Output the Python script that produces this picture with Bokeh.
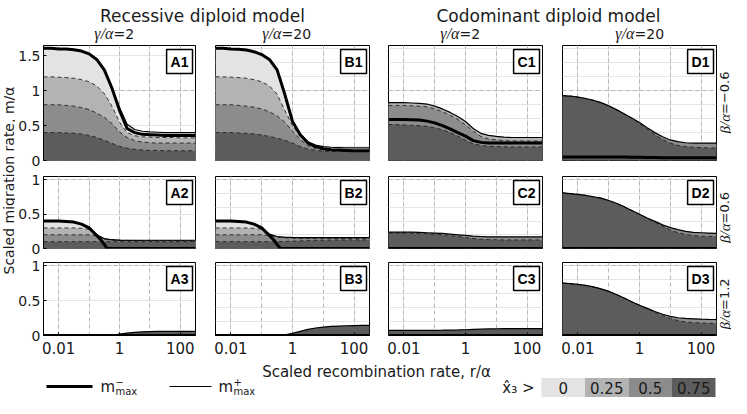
import math
from bokeh.plotting import figure
from bokeh.layouts import row, column
from bokeh.models import Range1d, FixedTicker, Label, Grid, LogScale
from bokeh.core.properties import value
from bokeh.embed import file_html
from bokeh.resources import INLINE

# ---------------- data ----------------
LOG_R = [-2.5, -2.25, -2.0, -1.75, -1.5, -1.25, -1.0, -0.75, -0.5, -0.25, 0.0,
         0.25, 0.5, 0.75, 1.0, 1.25, 1.5, 1.75, 2.0, 2.25, 2.5]
R = [10 ** v for v in LOG_R]

X_TICKS = [0.01, 1, 100]
X_TICK_LABELS = ["0.01", "1", "100"]
X_GRID = [0.01, 0.1, 1, 10, 100]
Y_TICKS = [[0, 0.5, 1, 1.5], [0, 0.5, 1], [0, 0.5, 1]]
Y_TICK_LABELS = [["0", "0.5", "1", "1.5"], ["0", "0.5", "1"], ["0", "0.5", "1"]]
Y_MAX = [1.65, 1.05, 1.05]

COLUMN_TITLES = ["Recessive diploid model", "Codominant diploid model"]
GAMMA = ["2", "20", "2", "20"]
BETA = ["\u22120.6", "0.6", "1.2"]
LEVELS = ["0", "0.25", "0.5", "0.75"]
LEVEL_COLORS = ["#e3e3e3", "#b3b3b3", "#8c8c8c", "#5c5c5c"]

ZERO = [0.0] * 21

A1_THICK = [1.61, 1.61, 1.60, 1.60, 1.59, 1.57, 1.53, 1.45, 1.30, 1.04, 0.72, 0.46, 0.40, 0.375, 0.37, 0.365, 0.36, 0.36, 0.36, 0.36, 0.36]
A1_THIN = [1.61, 1.61, 1.60, 1.60, 1.59, 1.57, 1.53, 1.45, 1.30, 1.04, 0.76, 0.52, 0.445, 0.42, 0.41, 0.405, 0.40, 0.40, 0.40, 0.40, 0.40]
A1_D1 = [1.20, 1.20, 1.195, 1.19, 1.18, 1.16, 1.13, 1.07, 0.96, 0.78, 0.55, 0.40, 0.355, 0.34, 0.335, 0.33, 0.33, 0.33, 0.325, 0.325, 0.325]
A1_D2 = [0.80, 0.80, 0.80, 0.79, 0.78, 0.76, 0.73, 0.68, 0.62, 0.53, 0.41, 0.33, 0.285, 0.265, 0.255, 0.25, 0.25, 0.25, 0.25, 0.25, 0.25]
A1_D3 = [0.40, 0.40, 0.40, 0.395, 0.39, 0.38, 0.36, 0.33, 0.29, 0.245, 0.205, 0.175, 0.16, 0.15, 0.145, 0.145, 0.14, 0.14, 0.14, 0.14, 0.14]

B1_THICK = [1.61, 1.61, 1.60, 1.595, 1.585, 1.56, 1.52, 1.45, 1.30, 0.95, 0.56, 0.37, 0.25, 0.20, 0.17, 0.155, 0.15, 0.145, 0.14, 0.14, 0.14]
B1_THIN = [1.61, 1.61, 1.60, 1.595, 1.585, 1.56, 1.52, 1.45, 1.30, 0.95, 0.56, 0.38, 0.27, 0.22, 0.20, 0.19, 0.185, 0.18, 0.18, 0.18, 0.18]
B1_D1 = [1.20, 1.20, 1.195, 1.19, 1.18, 1.16, 1.13, 1.07, 0.95, 0.72, 0.50, 0.35, 0.245, 0.19, 0.165, 0.15, 0.145, 0.14, 0.14, 0.14, 0.14]
B1_D2 = [0.80, 0.80, 0.80, 0.79, 0.78, 0.765, 0.74, 0.70, 0.64, 0.55, 0.42, 0.30, 0.21, 0.17, 0.15, 0.14, 0.135, 0.135, 0.135, 0.135, 0.135]
B1_D3 = [0.40, 0.40, 0.40, 0.395, 0.39, 0.38, 0.365, 0.345, 0.32, 0.29, 0.25, 0.20, 0.165, 0.145, 0.135, 0.13, 0.13, 0.13, 0.13, 0.13, 0.13]

C1_THIN = [0.83, 0.83, 0.83, 0.825, 0.82, 0.81, 0.78, 0.74, 0.69, 0.63, 0.56, 0.46, 0.39, 0.36, 0.345, 0.335, 0.33, 0.33, 0.33, 0.33, 0.33]
C1_DASH_HI = [0.79, 0.79, 0.79, 0.785, 0.78, 0.77, 0.74, 0.70, 0.65, 0.59, 0.51, 0.42, 0.345, 0.31, 0.295, 0.285, 0.28, 0.28, 0.28, 0.28, 0.28]
C1_THICK = [0.59, 0.59, 0.59, 0.585, 0.58, 0.565, 0.54, 0.50, 0.455, 0.40, 0.35, 0.285, 0.26, 0.25, 0.25, 0.25, 0.25, 0.25, 0.25, 0.25, 0.25]
C1_DASH_LO = [0.515, 0.515, 0.51, 0.505, 0.50, 0.49, 0.47, 0.44, 0.40, 0.35, 0.29, 0.24, 0.215, 0.205, 0.20, 0.197, 0.195, 0.195, 0.195, 0.195, 0.195]

D1_THIN = [0.93, 0.925, 0.91, 0.89, 0.865, 0.83, 0.785, 0.73, 0.67, 0.61, 0.545, 0.47, 0.40, 0.34, 0.295, 0.27, 0.255, 0.25, 0.25, 0.25, 0.25]
D1_DASH = [0.93, 0.925, 0.91, 0.89, 0.865, 0.83, 0.785, 0.73, 0.67, 0.60, 0.53, 0.45, 0.37, 0.30, 0.25, 0.215, 0.20, 0.19, 0.185, 0.18, 0.18]
D1_THICK = [0.05, 0.05, 0.05, 0.05, 0.05, 0.05, 0.05, 0.05, 0.05, 0.048, 0.046, 0.044, 0.042, 0.04, 0.04, 0.04, 0.04, 0.04, 0.04, 0.04, 0.04]

A2_THICK_LOG_R = [-2.5, -2.0, -1.75, -1.5, -1.25, -1.0, -0.75, -0.6, -0.5, -0.41, 2.5]
A2_THICK = [0.40, 0.40, 0.395, 0.385, 0.355, 0.30, 0.19, 0.12, 0.06, 0.0, 0.0]
A2_THIN = [0.40, 0.40, 0.40, 0.395, 0.385, 0.355, 0.30, 0.20, 0.145, 0.128, 0.122, 0.12, 0.12, 0.12, 0.12, 0.12, 0.12, 0.12, 0.12, 0.12, 0.12]
A2_D1 = [0.30, 0.30, 0.30, 0.30, 0.30, 0.295, 0.28, 0.19, 0.14, 0.124, 0.12, 0.118, 0.117, 0.116, 0.116, 0.115, 0.115, 0.115, 0.115, 0.115, 0.115]
A2_D2 = [0.20, 0.20, 0.20, 0.20, 0.20, 0.20, 0.20, 0.185, 0.138, 0.122, 0.117, 0.115, 0.113, 0.112, 0.111, 0.11, 0.11, 0.11, 0.11, 0.11, 0.11]
A2_D3 = [0.10, 0.10, 0.10, 0.10, 0.10, 0.10, 0.10, 0.10, 0.10, 0.10, 0.10, 0.10, 0.10, 0.10, 0.10, 0.10, 0.10, 0.10, 0.10, 0.10, 0.10]

B2_THICK_LOG_R = [-2.5, -2.0, -1.75, -1.5, -1.25, -1.0, -0.75, -0.6, -0.5, -0.40, 2.5]
B2_THICK = [0.40, 0.40, 0.395, 0.385, 0.355, 0.30, 0.19, 0.12, 0.06, 0.0, 0.0]
B2_THIN = [0.40, 0.40, 0.40, 0.395, 0.385, 0.355, 0.30, 0.21, 0.175, 0.165, 0.162, 0.16, 0.16, 0.16, 0.16, 0.16, 0.16, 0.16, 0.16, 0.16, 0.16]
B2_D1 = [0.30, 0.30, 0.30, 0.30, 0.30, 0.295, 0.28, 0.20, 0.17, 0.16, 0.157, 0.155, 0.155, 0.155, 0.155, 0.155, 0.155, 0.155, 0.155, 0.155, 0.155]
B2_D2 = [0.20, 0.20, 0.20, 0.20, 0.20, 0.20, 0.20, 0.19, 0.165, 0.155, 0.15, 0.148, 0.146, 0.145, 0.145, 0.145, 0.145, 0.145, 0.145, 0.145, 0.145]
B2_D3 = [0.10, 0.10, 0.10, 0.10, 0.10, 0.10, 0.10, 0.10, 0.10, 0.103, 0.107, 0.111, 0.115, 0.118, 0.12, 0.122, 0.124, 0.125, 0.125, 0.125, 0.125]

C2_THIN = [0.24, 0.24, 0.24, 0.24, 0.235, 0.23, 0.225, 0.22, 0.21, 0.20, 0.19, 0.18, 0.175, 0.17, 0.17, 0.17, 0.17, 0.17, 0.17, 0.17, 0.17]
C2_DASH = [0.225, 0.225, 0.225, 0.22, 0.22, 0.215, 0.21, 0.20, 0.19, 0.175, 0.16, 0.145, 0.135, 0.13, 0.127, 0.125, 0.125, 0.125, 0.125, 0.125, 0.125]

D2_THIN = [0.81, 0.80, 0.79, 0.775, 0.755, 0.735, 0.70, 0.66, 0.61, 0.555, 0.50, 0.445, 0.395, 0.345, 0.305, 0.275, 0.25, 0.235, 0.23, 0.225, 0.22]
D2_DASH = [0.81, 0.80, 0.79, 0.775, 0.755, 0.735, 0.70, 0.66, 0.61, 0.555, 0.50, 0.44, 0.385, 0.325, 0.27, 0.23, 0.205, 0.19, 0.18, 0.175, 0.17]

A3_THIN = [0, 0, 0, 0, 0, 0, 0, 0, 0, 0.003, 0.02, 0.035, 0.045, 0.052, 0.056, 0.058, 0.06, 0.06, 0.06, 0.06, 0.06]
B3_THIN = [0, 0, 0, 0, 0, 0, 0, 0, 0, 0.008, 0.03, 0.06, 0.088, 0.108, 0.12, 0.13, 0.136, 0.14, 0.143, 0.145, 0.147]
C3_THIN = [0.075, 0.075, 0.075, 0.075, 0.075, 0.075, 0.075, 0.076, 0.078, 0.08, 0.083, 0.087, 0.091, 0.094, 0.097, 0.099, 0.10, 0.10, 0.10, 0.10, 0.10]
D3_THIN = [0.755, 0.745, 0.735, 0.72, 0.70, 0.67, 0.635, 0.59, 0.54, 0.485, 0.435, 0.39, 0.345, 0.305, 0.275, 0.255, 0.245, 0.24, 0.235, 0.232, 0.23]
D3_DASH = [0.755, 0.745, 0.735, 0.72, 0.70, 0.67, 0.635, 0.59, 0.54, 0.485, 0.435, 0.385, 0.335, 0.285, 0.245, 0.215, 0.195, 0.185, 0.18, 0.175, 0.17]

PANELS = {
    "A1": dict(fills=[(0, A1_THIN), (1, A1_D1), (2, A1_D2), (3, A1_D3)], dashed=[A1_D1, A1_D2, A1_D3],
               thin=A1_THIN, thick=(LOG_R, A1_THICK)),
    "B1": dict(fills=[(0, B1_THIN), (1, B1_D1), (2, B1_D2), (3, B1_D3)], dashed=[B1_D1, B1_D2, B1_D3],
               thin=B1_THIN, thick=(LOG_R, B1_THICK)),
    "C1": dict(fills=[(1, C1_THIN), (2, C1_DASH_HI), (3, C1_DASH_LO)], dashed=[C1_DASH_HI, C1_DASH_LO],
               thin=C1_THIN, thick=(LOG_R, C1_THICK)),
    "D1": dict(fills=[(2, D1_THIN), (3, D1_DASH)], dashed=[D1_DASH], thin=D1_THIN, thick=(LOG_R, D1_THICK)),
    "A2": dict(fills=[(0, A2_THIN), (1, A2_D1), (2, A2_D2), (3, A2_D3)], dashed=[A2_D1, A2_D2, A2_D3],
               thin=A2_THIN, thick=(A2_THICK_LOG_R, A2_THICK)),
    "B2": dict(fills=[(0, B2_THIN), (1, B2_D1), (2, B2_D2), (3, B2_D3)], dashed=[B2_D1, B2_D2, B2_D3],
               thin=B2_THIN, thick=(B2_THICK_LOG_R, B2_THICK)),
    "C2": dict(fills=[(2, C2_THIN), (3, C2_DASH)], dashed=[C2_DASH], thin=C2_THIN, thick=(LOG_R, ZERO)),
    "D2": dict(fills=[(2, D2_THIN), (3, D2_DASH)], dashed=[D2_DASH], thin=D2_THIN, thick=(LOG_R, ZERO)),
    "A3": dict(fills=[(3, A3_THIN)], dashed=[], thin=A3_THIN, thick=(LOG_R, ZERO)),
    "B3": dict(fills=[(3, B3_THIN)], dashed=[], thin=B3_THIN, thick=(LOG_R, ZERO)),
    "C3": dict(fills=[(3, C3_THIN)], dashed=[], thin=C3_THIN, thick=(LOG_R, ZERO)),
    "D3": dict(fills=[(2, D3_THIN), (3, D3_DASH)], dashed=[D3_DASH], thin=D3_THIN, thick=(LOG_R, ZERO)),
}

# ---------------- layout / style ----------------
TXT = "#1a1a1a"
SANS = "DejaVu Sans"
SERIF = "Liberation Serif"
TOTAL_W = 731
HEADER_H = 45
FOOTER_H = 37
YLAB_W = 15
RLAB_W = 14
COL_W = [190, 173, 174, 165]
COL_BL = [26, 10, 10, 10]
COL_BR = [10, 9, 10, 1]
ROW_H = [123, 87, 106]
ROW_BT = [0, 8, 7]
ROW_BB = [8, 7, 26]
XMIN, XMAX = 10 ** -2.5, 10 ** 2.5


def make_panel(ci, ri):
    name = "ABCD"[ci] + str(ri + 1)
    spec = PANELS[name]
    p = figure(width=COL_W[ci], height=ROW_H[ri], x_axis_type="log",
               x_range=Range1d(XMIN, XMAX), y_range=Range1d(0, Y_MAX[ri]),
               x_axis_location="below" if ri == 2 else None,
               y_axis_location="left" if ci == 0 else None,
               toolbar_location=None, output_backend="svg", title=None,
               min_border_left=COL_BL[ci], min_border_right=COL_BR[ci],
               min_border_top=ROW_BT[ri], min_border_bottom=ROW_BB[ri])
    p.x_scale = LogScale()
    p.background_fill_color = "white"
    p.border_fill_color = "white"
    p.outline_line_color = "black"
    p.outline_line_width = 1

    xg = Grid(dimension=0, ticker=FixedTicker(ticks=X_GRID), grid_line_color="#b8b8b8",
              grid_line_dash="4 3", grid_line_width=1)
    yg = Grid(dimension=1, ticker=FixedTicker(ticks=[1]), grid_line_color="#b8b8b8",
              grid_line_dash="4 3", grid_line_width=1)
    p.add_layout(xg)
    p.add_layout(yg)

    if ri == 2:
        ax = p.xaxis[0]
        ax.ticker = FixedTicker(ticks=X_TICKS)
        ax.major_label_overrides = {t: l for t, l in zip(X_TICKS, X_TICK_LABELS)}
        ax.major_label_text_font = SANS
        ax.major_label_text_font_size = "15px"
        ax.major_label_text_color = TXT
        ax.major_label_standoff = 6
        ax.major_tick_in = 3
        ax.major_tick_out = 0
        ax.minor_tick_line_color = None
        ax.axis_line_color = "black"
    if ci == 0:
        ay = p.yaxis[0]
        ay.ticker = FixedTicker(ticks=Y_TICKS[ri])
        ay.major_label_overrides = {t: l for t, l in zip(Y_TICKS[ri], Y_TICK_LABELS[ri])}
        ay.major_label_text_font = SANS
        ay.major_label_text_font_size = "14px"
        ay.major_label_text_color = TXT
        ay.major_label_standoff = 3
        ay.major_tick_in = 3
        ay.major_tick_out = 0
        ay.minor_tick_line_color = None
        ay.axis_line_color = "black"

    for lvl, ys in spec["fills"]:
        p.varea(x=R, y1=0, y2=ys, fill_color=LEVEL_COLORS[lvl])
    for ys in spec["dashed"]:
        p.line(R, ys, line_color="#222222", line_width=0.9, line_dash="4 3")
    p.line(R, spec["thin"], line_color="black", line_width=1.2)
    tx, ty = spec["thick"]
    p.line([10 ** v for v in tx], ty, line_color="black", line_width=3)

    p.add_layout(Label(x=XMAX, y=Y_MAX[ri], x_offset=-3, y_offset=-4, text=name,
                       text_align="right", text_baseline="top", text_font="Liberation Sans",
                       text_font_style="bold", text_font_size="14px", text_color="black",
                       background_fill_color="white", border_line_color="black",
                       border_line_width=1.5, padding=4))
    return p


def blank(w, h):
    p = figure(width=w, height=h, x_range=Range1d(0, w), y_range=Range1d(h, 0),
               x_axis_location=None, y_axis_location=None, toolbar_location=None,
               output_backend="svg", title=None, min_border=0)
    p.outline_line_color = None
    p.background_fill_color = "white"
    p.border_fill_color = "white"
    p.grid.visible = False
    return p


# header
header = blank(TOTAL_W, HEADER_H)
header.text(x=[202, 548], y=[15, 15], text=COLUMN_TITLES, text_font=value(SANS),
            text_font_size="17px", text_align="center", text_baseline="alphabetic", text_color=TXT)
SPLITS = [113, 281, 459, 634]
header.text(x=SPLITS, y=[33] * 4, text=["\u03b3/\u03b1"] * 4, text_font=value(SERIF),
            text_font_style="italic", text_font_size="16px", text_align="right",
            text_baseline="alphabetic", text_color=TXT)
header.text(x=SPLITS, y=[33] * 4, text=["=" + g for g in GAMMA], text_font=value(SANS),
            text_font_size="14px", text_align="left", text_baseline="alphabetic", text_color=TXT)

grid_h = sum(ROW_H)

# y label (left)
ylab = blank(YLAB_W, grid_h)
ylab.text(x=[8], y=[135], text=["Scaled migration rate, m/\u03b1"], text_font=value(SANS),
          text_font_size="14px", text_align="center", text_baseline="middle", angle=math.pi / 2,
          text_color=TXT)

# row labels (right)
ROW_CENTER = [57.5, 167, 253.5]
rlab = blank(RLAB_W, grid_h)
split_y = [c + 11 for c in ROW_CENTER]
rlab.text(x=[7] * 3, y=split_y, text=["\u03b2/\u03b1"] * 3, text_font=value(SERIF),
          text_font_style="italic", text_font_size="15px", text_align="right",
          text_baseline="middle", angle=math.pi / 2, text_color=TXT)
rlab.text(x=[7] * 3, y=split_y, text=["=" + b for b in BETA], text_font=value(SANS),
          text_font_size="13px", text_align="left", text_baseline="middle",
          angle=math.pi / 2, text_color=TXT)

rows = []
for ri in range(3):
    rows.append(row(*[make_panel(ci, ri) for ci in range(4)], spacing=0))
grid = column(*rows, spacing=0)

# footer
footer = blank(TOTAL_W, FOOTER_H)
footer.text(x=[376], y=[10], text=["Scaled recombination rate, r/\u03b1"], text_font=value(SANS),
            text_font_size="15px", text_align="center", text_baseline="middle", text_color=TXT)
LEG_Y = 25
footer.line([46, 92], [LEG_Y, LEG_Y], line_color="black", line_width=3)
footer.line([169, 211], [LEG_Y, LEG_Y], line_color="black", line_width=1.2)
footer.text(x=[100, 218], y=[LEG_Y, LEG_Y], text=["m", "m"], text_font=value(SANS), text_font_size="15px",
            text_align="left", text_baseline="middle", text_color=TXT)
footer.text(x=[115, 233], y=[LEG_Y - 5] * 2, text=["\u2212", "+"], text_font=value(SANS),
            text_font_size="10px", text_align="left", text_baseline="middle", text_color=TXT)
footer.text(x=[115, 233], y=[LEG_Y + 5] * 2, text=["max", "max"], text_font=value(SANS),
            text_font_size="10px", text_align="left", text_baseline="middle", text_color=TXT)
footer.text(x=[534], y=[LEG_Y + 1], text=["x\u0302\u2083 >"], text_font=value(SANS), text_font_size="15px",
            text_align="right", text_baseline="middle", text_color=TXT)
CELL_X = [562.75, 606.25, 649.75, 693.25]
footer.rect(x=CELL_X, y=[LEG_Y + 1] * 4, width=43.5, height=19, fill_color=LEVEL_COLORS, line_color=None)
footer.text(x=CELL_X, y=[LEG_Y + 1] * 4, text=LEVELS, text_font=value(SANS), text_font_size="15px",
            text_align="center", text_baseline="middle", text_color=TXT)

layout = column(header, row(ylab, grid, rlab, spacing=0), footer, spacing=0)

open("out.html", "w").write(file_html(layout, INLINE))
